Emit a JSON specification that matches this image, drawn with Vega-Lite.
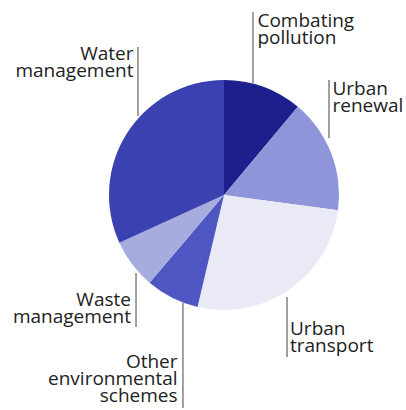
{
  "$schema": "https://vega.github.io/schema/vega-lite/v6.json",
  "width": 230,
  "height": 230,
  "autosize": {"type": "none"},
  "padding": {"left": 109, "top": 80, "right": 67, "bottom": 100},
  "background": "white",
  "config": {"view": {"stroke": null}},
  "datasets": {
    "slices": [
      {"sector": "Combating pollution", "share": 11.1, "rank": 1},
      {"sector": "Urban renewal", "share": 16.0, "rank": 2},
      {"sector": "Urban transport", "share": 26.6, "rank": 3},
      {"sector": "Other environmental schemes", "share": 7.5, "rank": 4},
      {"sector": "Waste management", "share": 7.0, "rank": 5},
      {"sector": "Water management", "share": 31.8, "rank": 6}
    ],
    "labels": [
      {"label": "Combating\npollution", "side": "right", "lx": 0.291, "ly": 1.463, "rx": 0.252, "ry1": 1.591, "ry2": 0.974},
      {"label": "Urban\nrenewal", "side": "right", "lx": 0.943, "ly": 0.87, "rx": 0.913, "ry1": 1.0, "ry2": 0.496},
      {"label": "Urban\ntransport", "side": "right", "lx": 0.574, "ly": -1.217, "rx": 0.548, "ry1": -0.887, "ry2": -1.409},
      {"label": "Water\nmanagement", "side": "left", "lx": -0.787, "ly": 1.174, "rx": -0.748, "ry1": 1.287, "ry2": 0.687},
      {"label": "Waste\nmanagement", "side": "left", "lx": -0.809, "ly": -0.963, "rx": -0.765, "ry1": -0.678, "ry2": -1.148},
      {"label": "Other\nenvironmental\nschemes", "side": "left", "lx": -0.404, "ly": -1.502, "rx": -0.357, "ry1": -0.939, "ry2": -1.852}
    ]
  },
  "layer": [
    {
      "data": {"name": "slices"},
      "mark": {"type": "arc"},
      "encoding": {
        "theta": {"field": "share", "type": "quantitative", "stack": true},
        "order": {"field": "rank", "type": "quantitative"},
        "color": {
          "field": "sector",
          "type": "nominal",
          "legend": null,
          "scale": {
            "domain": ["Combating pollution", "Urban renewal", "Urban transport", "Other environmental schemes", "Waste management", "Water management"],
            "range": ["#1c1f8c", "#8e95d9", "#e9eaf6", "#4e57c1", "#a7acdf", "#3b41b0"]
          }
        }
      }
    },
    {
      "data": {"name": "labels"},
      "mark": {"type": "rule", "stroke": "#6e6e6e", "strokeWidth": 1.3},
      "encoding": {
        "x": {"field": "rx", "type": "quantitative", "axis": null, "scale": {"domain": [-1, 1], "nice": false, "zero": false}},
        "y": {"field": "ry1", "type": "quantitative", "axis": null, "scale": {"domain": [-1, 1], "nice": false, "zero": false}},
        "y2": {"field": "ry2"}
      }
    },
    {
      "data": {"name": "labels"},
      "transform": [{"filter": "datum.side === 'right'"}],
      "mark": {"type": "text", "align": "left", "baseline": "alphabetic", "font": "Open Sans", "fontSize": 19, "lineHeight": 17, "lineBreak": "\n", "color": "#222222"},
      "encoding": {
        "x": {"field": "lx", "type": "quantitative", "axis": null, "scale": {"domain": [-1, 1], "nice": false, "zero": false}},
        "y": {"field": "ly", "type": "quantitative", "axis": null, "scale": {"domain": [-1, 1], "nice": false, "zero": false}},
        "text": {"field": "label", "type": "nominal"}
      }
    },
    {
      "data": {"name": "labels"},
      "transform": [{"filter": "datum.side === 'left'"}],
      "mark": {"type": "text", "align": "right", "baseline": "alphabetic", "font": "Open Sans", "fontSize": 19, "lineHeight": 17, "lineBreak": "\n", "color": "#222222"},
      "encoding": {
        "x": {"field": "lx", "type": "quantitative", "axis": null, "scale": {"domain": [-1, 1], "nice": false, "zero": false}},
        "y": {"field": "ly", "type": "quantitative", "axis": null, "scale": {"domain": [-1, 1], "nice": false, "zero": false}},
        "text": {"field": "label", "type": "nominal"}
      }
    }
  ]
}
